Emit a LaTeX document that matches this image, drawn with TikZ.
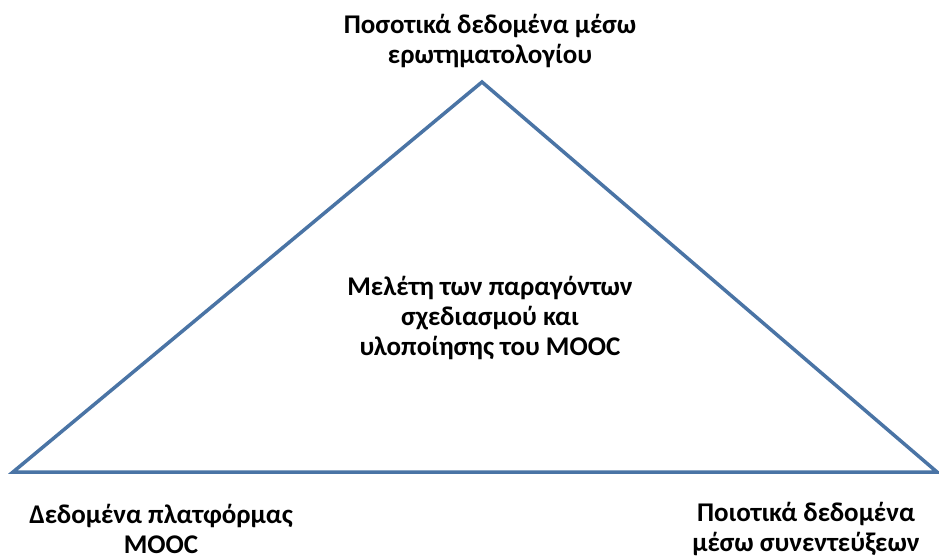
\documentclass[tikz,border=0pt]{standalone}
\usepackage{fontspec}
\setmainfont{Carlito}
\usepackage{xcolor}
\definecolor{edgeblue}{HTML}{4A74A5}
\usetikzlibrary{positioning}

\tikzset{
    label text/.style={font=\bfseries\fontsize{27}{30}\selectfont, align=center, text=black, inner sep=0pt},
    side/.style={draw=edgeblue, line width=3.5pt, line join=miter}
}

\begin{document}
\begin{tikzpicture}[x=1pt, y=-1pt]
    \useasboundingbox (0,0) rectangle (939,559);

    % Triangle corners
    \coordinate (apex) at (482,82);
    \coordinate (left) at (13,472);
    \coordinate (right) at (937,472);
    \draw [side] (apex) -- (right) -- (left) -- cycle;

    % Labels
    \node [label text] (quant) at (490,41) {Ποσοτικά δεδομένα μέσω\\ερωτηματολογίου};
    \node [label text] (study) at (490,318) {Μελέτη των παραγόντων\\σχεδιασμού και\\υλοποίησης του MOOC};
    \node [label text] (platform) at (161,529) {Δεδομένα πλατφόρμας\\MOOC};
    \node [label text] (qual) at (806,529) {Ποιοτικά δεδομένα\\μέσω συνεντεύξεων};
\end{tikzpicture}
\end{document}
